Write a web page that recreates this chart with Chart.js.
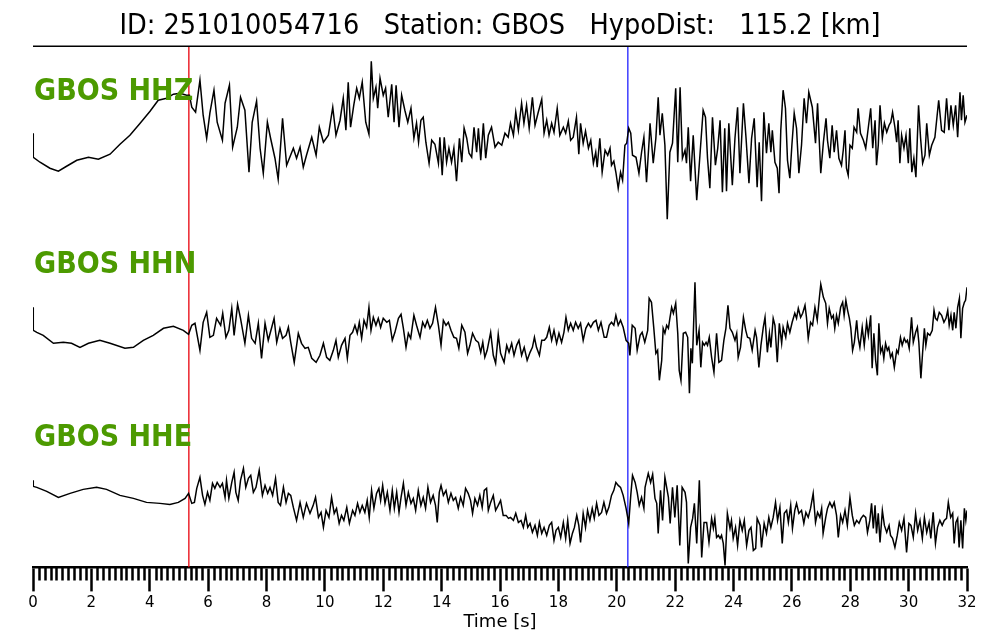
<!DOCTYPE html>
<html>
<head>
    <title>GBOS waveforms</title>
    <script src="https://cdn.jsdelivr.net/npm/chart.js"></script>
    <style>
        body { margin: 0; background: #fff; }
    </style>
</head>
<body>
    <canvas id="waveChart" width="1000" height="640"></canvas>

<script>
// event info
const titleText = 'ID: 251010054716   Station: GBOS   HypoDist:   115.2 [km]';
const traceNames = ['GBOS HHZ', 'GBOS HHN', 'GBOS HHE'];
const pPick = 5.34;   // red line [s]
const sPick = 20.38;  // blue line [s]
const xTickLabels = [0, 2, 4, 6, 8, 10, 12, 14, 16, 18, 20, 22, 24, 26, 28, 30, 32];

// samples: [time s, amplitude]
const hhz = [
  [0,7],[0.01,-17],[0.24,-22],[0.58,-28],[0.87,-31],[1.15,-26],[1.5,-20],[1.9,-17],[2.24,-19],[2.64,-14],
  [2.98,-4],[3.32,5],[3.67,17],[4.01,29],[4.29,40],[4.58,42],[4.81,46],[5.04,47],[5.26,45],[5.36,45],
  [5.44,33],[5.57,28],[5.72,60],[5.83,25],[5.95,2],[6.06,27],[6.2,50],[6.31,18],[6.49,0],[6.58,37],
  [6.73,55],[6.84,-7],[7,13],[7.11,43],[7.26,30],[7.4,-32],[7.51,18],[7.66,39],[7.78,-8],[7.89,-33],
  [8.03,18],[8.14,2],[8.29,-18],[8.4,-39],[8.55,22],[8.69,-25],[8.92,-8],[9.03,-18],[9.15,-7],[9.26,-27],
  [9.37,-15],[9.55,3],[9.7,-15],[9.81,13],[9.95,-2],[10.12,5],[10.27,33],[10.38,5],[10.52,20],[10.63,42],
  [10.72,10],[10.8,58],[10.88,13],[10.99,35],[11.09,52],[11.18,42],[11.28,58],[11.4,18],[11.51,6],[11.59,79],
  [11.66,42],[11.75,53],[11.81,32],[11.89,62],[12,45],[12.08,52],[12.17,23],[12.29,56],[12.37,18],[12.44,55],
  [12.54,13],[12.63,45],[12.74,30],[12.84,18],[12.95,32],[13.05,2],[13.14,17],[13.21,-2],[13.29,20],[13.37,23],
  [13.46,-2],[13.57,-23],[13.66,0],[13.77,-4],[13.89,-23],[13.94,3],[14.02,-35],[14.09,3],[14.17,-22],[14.25,-8],
  [14.34,-22],[14.42,-8],[14.51,-41],[14.61,2],[14.69,-22],[14.77,12],[14.86,2],[14.94,-13],[15.03,-17],[15.11,13],
  [15.2,-12],[15.26,12],[15.34,-20],[15.43,17],[15.51,-18],[15.6,5],[15.71,13],[15.83,-7],[15.94,-2],[16.06,-5],
  [16.17,7],[16.28,3],[16.36,17],[16.46,5],[16.54,28],[16.63,10],[16.74,37],[16.82,17],[16.91,35],[17,12],
  [17.11,43],[17.2,15],[17.31,28],[17.43,41],[17.51,7],[17.6,20],[17.68,5],[17.77,17],[17.85,8],[17.96,32],
  [18.05,5],[18.17,13],[18.25,7],[18.34,19],[18.42,0],[18.51,3],[18.62,23],[18.7,-14],[18.76,17],[18.85,-3],
  [18.93,9],[19.03,-8],[19.11,0],[19.2,-23],[19.28,-12],[19.33,-27],[19.42,2],[19.5,-32],[19.6,-10],[19.69,-15],
  [19.77,-8],[19.82,-25],[19.9,-21],[19.97,-32],[20.05,-48],[20.13,-32],[20.2,-40],[20.28,-5],[20.34,-3],[20.41,12],
  [20.48,7],[20.54,-15],[20.66,-17],[20.76,-33],[20.85,-12],[20.93,3],[21.02,-42],[21.11,0],[21.14,17],[21.25,-23],
  [21.34,2],[21.42,43],[21.48,5],[21.56,27],[21.65,-5],[21.73,-79],[21.82,-12],[21.91,-3],[22.02,52],[22.09,-22],
  [22.17,53],[22.25,-18],[22.34,-10],[22.39,-23],[22.45,13],[22.53,-41],[22.62,5],[22.74,-60],[22.85,-15],[22.96,30],
  [23.04,23],[23.11,-18],[23.19,-48],[23.28,23],[23.38,-25],[23.46,-8],[23.54,20],[23.62,-52],[23.7,12],[23.76,-51],
  [23.84,17],[23.96,-45],[24.05,2],[24.14,33],[24.22,-33],[24.34,37],[24.43,2],[24.53,-43],[24.62,2],[24.71,22],
  [24.81,-47],[24.88,-2],[24.96,-61],[25.04,28],[25.13,-13],[25.21,17],[25.28,-12],[25.33,10],[25.42,-22],[25.5,-28],
  [25.56,-53],[25.62,10],[25.7,50],[25.78,32],[25.85,-20],[25.93,-38],[26,-5],[26.08,27],[26.16,12],[26.24,-33],
  [26.33,-5],[26.42,42],[26.5,17],[26.58,48],[26.7,33],[26.81,-3],[26.88,37],[26.99,-33],[27.08,-2],[27.17,22],
  [27.22,0],[27.3,-18],[27.38,15],[27.45,-12],[27.53,10],[27.61,-18],[27.7,-25],[27.76,-10],[27.82,10],[27.87,-28],
  [27.93,-35],[27.99,-5],[28.07,-8],[28.13,13],[28.22,8],[28.27,32],[28.35,7],[28.45,0],[28.53,-8],[28.62,13],
  [28.7,32],[28.77,-8],[28.85,20],[28.9,-25],[28.96,-5],[29.02,35],[29.1,2],[29.17,17],[29.25,8],[29.33,15],
  [29.39,18],[29.45,28],[29.53,13],[29.59,-2],[29.64,20],[29.7,-23],[29.76,5],[29.84,-8],[29.91,5],[29.99,-23],
  [30.04,12],[30.11,-32],[30.18,-18],[30.25,-37],[30.34,35],[30.41,2],[30.48,-23],[30.56,-15],[30.62,17],[30.71,-15],
  [30.79,-5],[30.9,3],[31.03,40],[31.13,10],[31.22,8],[31.3,42],[31.38,10],[31.45,35],[31.53,15],[31.61,35],
  [31.68,3],[31.76,48],[31.81,20],[31.87,45],[31.93,18],[32,25]
];

const hhn = [
  [0,23],[0.01,0],[0.13,-2],[0.35,-5],[0.7,-13],[1.04,-12],[1.32,-13],[1.61,-17],[1.9,-13],[2.29,-10],
  [2.64,-13],[3.15,-18],[3.44,-17],[3.78,-10],[4.12,-5],[4.47,2],[4.81,4],[5.15,0],[5.33,-4],
  [5.44,5],[5.55,7],[5.72,-20],[5.83,8],[5.95,18],[6.06,-7],[6.18,-5],[6.29,12],[6.43,5],[6.5,17],
  [6.61,-7],[6.71,0],[6.81,22],[6.89,-5],[7.01,26],[7.11,12],[7.26,-13],[7.38,15],[7.49,-8],[7.61,-13],
  [7.72,7],[7.83,-28],[7.95,7],[8.06,-10],[8.18,3],[8.26,12],[8.35,-12],[8.46,2],[8.55,-8],[8.67,-5],
  [8.75,3],[8.83,-12],[8.95,-32],[9.09,-3],[9.2,-13],[9.32,-18],[9.43,-17],[9.55,-28],[9.7,-32],[9.83,-25],
  [9.95,-13],[10.06,-27],[10.17,-30],[10.29,-20],[10.38,-10],[10.46,-27],[10.57,-15],[10.69,-8],[10.77,-28],[10.86,-5],
  [10.95,-2],[11.03,5],[11.11,-3],[11.18,8],[11.26,-8],[11.34,10],[11.43,3],[11.51,23],[11.58,0],[11.66,13],
  [11.75,5],[11.83,12],[11.91,3],[12,12],[12.12,8],[12.21,10],[12.31,-10],[12.4,-2],[12.52,12],[12.61,16],
  [12.69,2],[12.78,-17],[12.86,-3],[12.94,-8],[13.05,15],[13.14,5],[13.26,-7],[13.35,8],[13.43,3],[13.51,10],
  [13.6,2],[13.69,7],[13.79,23],[13.89,5],[13.98,-15],[14.06,10],[14.15,5],[14.23,8],[14.32,0],[14.42,-7],
  [14.51,-8],[14.59,-18],[14.69,5],[14.8,-2],[14.89,-23],[14.97,-15],[15.06,-3],[15.17,-10],[15.26,-12],[15.34,-22],
  [15.41,-12],[15.48,-27],[15.56,-20],[15.68,-2],[15.77,-25],[15.85,-33],[15.94,-4],[16.02,-23],[16.14,-32],[16.23,-15],
  [16.31,-22],[16.4,-13],[16.48,-25],[16.57,-15],[16.65,-10],[16.74,-25],[16.83,-17],[16.93,-30],[17.03,-22],[17.11,-17],
  [17.18,-7],[17.25,-17],[17.35,-25],[17.43,-10],[17.52,-10],[17.6,-7],[17.69,3],[17.77,-10],[17.85,0],[17.94,-13],
  [18.02,-3],[18.11,-12],[18.19,-2],[18.26,13],[18.34,0],[18.42,7],[18.51,0],[18.59,8],[18.68,2],[18.76,7],
  [18.85,-10],[18.94,2],[19.03,7],[19.11,3],[19.2,8],[19.29,10],[19.37,0],[19.46,8],[19.57,-7],[19.65,-7],
  [19.74,5],[19.82,8],[19.9,5],[19.97,15],[20.05,5],[20.13,10],[20.22,3],[20.32,-10],[20.41,-13],[20.45,-25],
  [20.53,5],[20.63,2],[20.7,-20],[20.8,-5],[20.87,-2],[20.96,-12],[21.06,0],[21.11,32],[21.19,28],[21.27,2],
  [21.34,-23],[21.4,-20],[21.46,-50],[21.54,-30],[21.59,2],[21.65,-3],[21.71,5],[21.77,2],[21.82,12],[21.88,23],
  [21.94,17],[22.02,27],[22.09,-3],[22.14,-40],[22.2,-50],[22.28,-3],[22.36,-2],[22.43,-7],[22.49,-63],[22.54,-18],
  [22.59,-33],[22.68,48],[22.74,-15],[22.82,0],[22.88,-37],[22.94,-12],[23,-15],[23.06,-12],[23.11,-15],[23.17,-7],
  [23.25,-27],[23.33,-42],[23.42,-3],[23.5,-32],[23.59,-30],[23.67,-10],[23.74,2],[23.81,25],[23.88,2],[23.96,-2],
  [24.05,-10],[24.11,-3],[24.16,-27],[24.24,-17],[24.34,13],[24.42,0],[24.48,-7],[24.56,-8],[24.64,-20],[24.74,0],
  [24.79,-7],[24.87,-37],[24.94,-15],[25.02,3],[25.08,13],[25.16,-22],[25.23,-3],[25.28,-17],[25.36,12],[25.42,5],
  [25.5,-32],[25.57,7],[25.65,-13],[25.7,3],[25.79,-7],[25.85,7],[25.93,-2],[26.01,8],[26.1,17],[26.16,12],
  [26.22,22],[26.3,13],[26.37,17],[26.45,25],[26.5,13],[26.56,-8],[26.64,8],[26.71,5],[26.79,23],[26.87,10],
  [26.94,32],[26.99,46],[27.08,33],[27.16,27],[27.22,7],[27.28,22],[27.36,12],[27.42,15],[27.47,2],[27.53,15],
  [27.59,7],[27.67,23],[27.74,28],[27.79,15],[27.85,30],[27.91,20],[27.97,12],[28.02,2],[28.08,-20],[28.14,-12],
  [28.22,10],[28.27,-7],[28.33,-17],[28.41,3],[28.48,-15],[28.56,8],[28.62,-5],[28.7,15],[28.75,-38],[28.81,-3],
  [28.87,-30],[28.93,-45],[28.98,7],[29.04,-22],[29.1,-17],[29.15,-28],[29.21,-13],[29.27,-20],[29.32,-17],[29.38,-27],
  [29.44,-23],[29.51,-37],[29.59,-20],[29.64,-23],[29.72,-7],[29.78,-15],[29.85,-8],[29.91,-12],[29.96,-10],[30.02,-18],
  [30.1,13],[30.16,-12],[30.24,-2],[30.3,3],[30.35,-12],[30.42,-48],[30.48,-22],[30.54,2],[30.59,-15],[30.65,-3],
  [30.73,-5],[30.81,0],[30.87,20],[30.92,12],[30.98,10],[31.05,18],[31.13,15],[31.21,8],[31.28,12],[31.34,20],
  [31.39,5],[31.45,15],[31.51,0],[31.56,18],[31.62,2],[31.68,23],[31.74,32],[31.79,-8],[31.85,22],[31.91,28],
  [31.95,30],[32,43]
];

const hhe = [
  [0,25],[0.01,19],[0.13,18],[0.47,14],[0.87,8],[1.27,12],[1.72,16],[2.18,18],[2.52,16],[2.98,10],
  [3.44,7],[3.89,3],[4.35,2],[4.69,1],[4.98,3],[5.21,7],[5.33,12],
  [5.44,2],[5.53,3],[5.61,17],[5.72,28],[5.81,10],[5.89,1],[5.98,13],[6.06,5],[6.15,22],[6.23,17],
  [6.31,23],[6.41,18],[6.49,22],[6.58,8],[6.63,25],[6.71,7],[6.81,23],[6.89,33],[6.95,13],[7.03,5],
  [7.11,25],[7.21,37],[7.29,18],[7.38,27],[7.46,30],[7.55,13],[7.64,18],[7.75,35],[7.86,10],[7.95,20],
  [8.04,12],[8.12,18],[8.21,10],[8.31,27],[8.4,3],[8.48,0],[8.58,18],[8.67,3],[8.75,12],[8.83,10],
  [8.92,-2],[9.03,-15],[9.15,3],[9.26,-12],[9.37,2],[9.49,-8],[9.6,0],[9.68,8],[9.78,-12],[9.87,-7],
  [9.95,-22],[10.04,-5],[10.14,-12],[10.23,8],[10.32,-8],[10.4,-3],[10.49,-18],[10.57,-10],[10.65,-15],[10.75,-2],
  [10.84,-18],[10.95,-5],[11.03,-10],[11.12,2],[11.2,-7],[11.28,0],[11.37,-7],[11.45,5],[11.52,-12],[11.6,15],
  [11.68,-3],[11.77,12],[11.85,17],[11.91,5],[11.98,20],[12.06,2],[12.14,13],[12.23,-5],[12.31,15],[12.38,-3],
  [12.46,13],[12.54,-7],[12.61,8],[12.69,22],[12.78,0],[12.86,13],[12.95,2],[13.03,7],[13.11,-5],[13.2,15],
  [13.29,0],[13.37,8],[13.45,-3],[13.53,18],[13.62,3],[13.71,10],[13.79,0],[13.85,-17],[13.92,13],[13.98,20],
  [14.06,10],[14.15,15],[14.23,3],[14.32,12],[14.4,5],[14.48,8],[14.57,-3],[14.65,8],[14.74,0],[14.82,17],
  [14.91,12],[14.99,5],[15.06,-8],[15.14,7],[15.23,0],[15.31,10],[15.39,-2],[15.46,15],[15.54,17],[15.6,-5],
  [15.68,3],[15.77,10],[15.85,-5],[15.94,0],[16.02,5],[16.11,-10],[16.21,-10],[16.29,-13],[16.36,-12],[16.46,-15],
  [16.54,-8],[16.63,-17],[16.72,-15],[16.8,-22],[16.88,-10],[16.95,-22],[17.03,-18],[17.11,-27],[17.2,-20],[17.28,-30],
  [17.35,-17],[17.43,-28],[17.51,-22],[17.6,-30],[17.69,-20],[17.77,-17],[17.85,-35],[17.92,-25],[18,-22],[18.08,-32],
  [18.17,-17],[18.25,-33],[18.32,-15],[18.4,-38],[18.48,-28],[18.55,-22],[18.63,-10],[18.7,-20],[18.76,-37],[18.85,-8],
  [18.93,-22],[19,-5],[19.08,-15],[19.16,-3],[19.23,-13],[19.31,2],[19.39,-10],[19.48,-7],[19.56,3],[19.65,-8],
  [19.73,-2],[19.82,10],[19.9,15],[19.97,23],[20.05,20],[20.13,18],[20.22,10],[20.32,-3],[20.41,-18],[20.48,10],
  [20.54,30],[20.63,23],[20.7,13],[20.77,0],[20.85,8],[20.93,-3],[20.97,18],[21.08,32],[21.16,23],[21.23,31],
  [21.31,7],[21.37,2],[21.42,-28],[21.5,15],[21.57,-15],[21.65,28],[21.77,8],[21.83,-18],[21.91,18],[21.99,-12],
  [22.07,20],[22.16,-40],[22.24,18],[22.34,13],[22.39,3],[22.45,-58],[22.53,-22],[22.6,-13],[22.66,2],[22.74,-38],
  [22.83,25],[22.91,-52],[22.99,-17],[23.08,-17],[23.16,-37],[23.25,-13],[23.31,-23],[23.36,-13],[23.42,-32],[23.48,-30],
  [23.54,-33],[23.59,-30],[23.65,-38],[23.71,-60],[23.79,-8],[23.88,-23],[23.93,-15],[23.99,-33],[24.07,-22],[24.14,-40],
  [24.22,-15],[24.3,-25],[24.37,-15],[24.45,-40],[24.53,-25],[24.6,-22],[24.68,-45],[24.76,-43],[24.81,-13],[24.91,-20],
  [24.96,-42],[25.05,-18],[25.13,-28],[25.21,-12],[25.28,-22],[25.36,-12],[25.44,3],[25.51,-15],[25.59,-2],[25.67,-38],
  [25.74,-8],[25.82,-5],[25.88,-17],[25.96,0],[26.02,-23],[26.1,-5],[26.16,2],[26.24,-8],[26.33,-5],[26.41,-18],
  [26.48,-7],[26.56,-12],[26.64,-3],[26.73,12],[26.81,-17],[26.88,-7],[26.96,-12],[27.02,-3],[27.07,-28],[27.16,-12],
  [27.22,-3],[27.3,3],[27.38,-2],[27.45,3],[27.53,-10],[27.59,-32],[27.67,-10],[27.74,-17],[27.82,-5],[27.9,-20],
  [27.99,8],[28.07,-10],[28.14,-20],[28.22,-15],[28.3,-18],[28.37,-13],[28.45,-10],[28.53,-12],[28.59,-27],[28.67,-15],
  [28.73,2],[28.79,-23],[28.85,0],[28.9,-28],[28.96,-8],[29.02,-37],[29.1,-5],[29.17,-20],[29.25,-27],[29.33,-20],
  [29.38,-30],[29.45,-33],[29.53,-42],[29.61,-30],[29.68,-17],[29.76,-25],[29.84,-13],[29.93,-47],[30.01,-18],[30.08,-20],
  [30.16,-32],[30.24,-8],[30.31,-25],[30.39,-15],[30.47,-33],[30.54,-12],[30.62,-27],[30.7,-17],[30.76,-33],[30.84,-7],
  [30.92,-38],[30.99,-22],[31.07,-15],[31.15,-20],[31.22,-15],[31.3,-13],[31.36,3],[31.44,-12],[31.51,-8],[31.56,-38],
  [31.62,-17],[31.68,-13],[31.73,-42],[31.79,-15],[31.85,-43],[31.91,-3],[31.96,-15],[32,-5]
];

// vertical offsets of the three traces on the shared y scale
const traceOffsets = [427, 237, 62];
const labelLift = [48, 65, 67];
const yMax = 521;

function shifted(samples, off) {
    return samples.map(p => ({ x: p[0], y: p[1] + off }));
}

function pickLine(t) {
    return [{ x: t, y: 0 }, { x: t, y: yMax }];
}

// minor ticks every 0.2 s + green trace names + top rule
const decorPlugin = {
    id: 'decor',
    afterDraw(chart) {
        const ctx = chart.ctx;
        const area = chart.chartArea;
        const xs = chart.scales.x;
        const ys = chart.scales.y;
        ctx.save();
        ctx.strokeStyle = '#000';
        ctx.lineWidth = 2.5;
        ctx.beginPath();
        for (let i = 0; i <= 160; i++) {
            if (i % 10 === 0) continue;
            const px = Math.round(xs.getPixelForValue(i / 5)) + 0.5;
            ctx.moveTo(px, area.bottom);
            ctx.lineTo(px, area.bottom + 13);
        }
        ctx.stroke();

        ctx.lineWidth = 1.5;
        ctx.beginPath();
        ctx.moveTo(area.left, area.top);
        ctx.lineTo(area.right, area.top);
        ctx.stroke();

        ctx.fillStyle = '#4c9a00';
        ctx.font = "bold 30px 'DejaVu Sans Condensed', 'DejaVu Sans'";
        ctx.textBaseline = 'middle';
        traceNames.forEach((name, i) => {
            ctx.fillText(name, area.left + 1, ys.getPixelForValue(traceOffsets[i] + labelLift[i]));
        });
        ctx.restore();
    }
};

Chart.defaults.font.family = "'DejaVu Sans', sans-serif";
Chart.defaults.color = '#000';

new Chart(document.getElementById('waveChart').getContext('2d'), {
    type: 'line',
    data: {
        datasets: [
            { data: shifted(hhz, traceOffsets[0]), borderColor: '#000', borderWidth: 1.5 },
            { data: shifted(hhn, traceOffsets[1]), borderColor: '#000', borderWidth: 1.5 },
            { data: shifted(hhe, traceOffsets[2]), borderColor: '#000', borderWidth: 1.5 },
            { data: pickLine(pPick), borderColor: '#e8000b', borderWidth: 1.3 },
            { data: pickLine(sPick), borderColor: '#2020ff', borderWidth: 1.3 }
        ]
    },
    options: {
        responsive: false,
        animation: false,
        elements: { point: { radius: 0 }, line: { tension: 0 } },
        layout: { padding: { left: 33, right: 33, top: 0, bottom: 7 } },
        scales: {
            x: {
                type: 'linear',
                min: 0,
                max: 32,
                border: { display: true, color: '#000', width: 2.5 },
                grid: { drawOnChartArea: false, drawTicks: true, tickLength: 24, tickWidth: 2.5, tickColor: '#000' },
                ticks: {
                    stepSize: 2,
                    autoSkip: false,
                    maxRotation: 0,
                    padding: 3,
                    font: { size: 15 },
                    callback: v => xTickLabels.includes(v) ? String(v) : ''
                },
                title: { display: true, text: 'Time [s]', font: { size: 18 }, padding: { top: -4, bottom: 0 } }
            },
            y: { display: false, min: 0, max: yMax }
        },
        plugins: {
            legend: { display: false },
            tooltip: { enabled: false },
            title: {
                display: true,
                text: titleText,
                color: '#000',
                font: { family: "'DejaVu Sans Condensed', 'DejaVu Sans'", size: 28.5, weight: 'normal' },
                padding: { top: 9, bottom: 3 }
            }
        }
    },
    plugins: [decorPlugin]
});
</script>
</body>
</html>
